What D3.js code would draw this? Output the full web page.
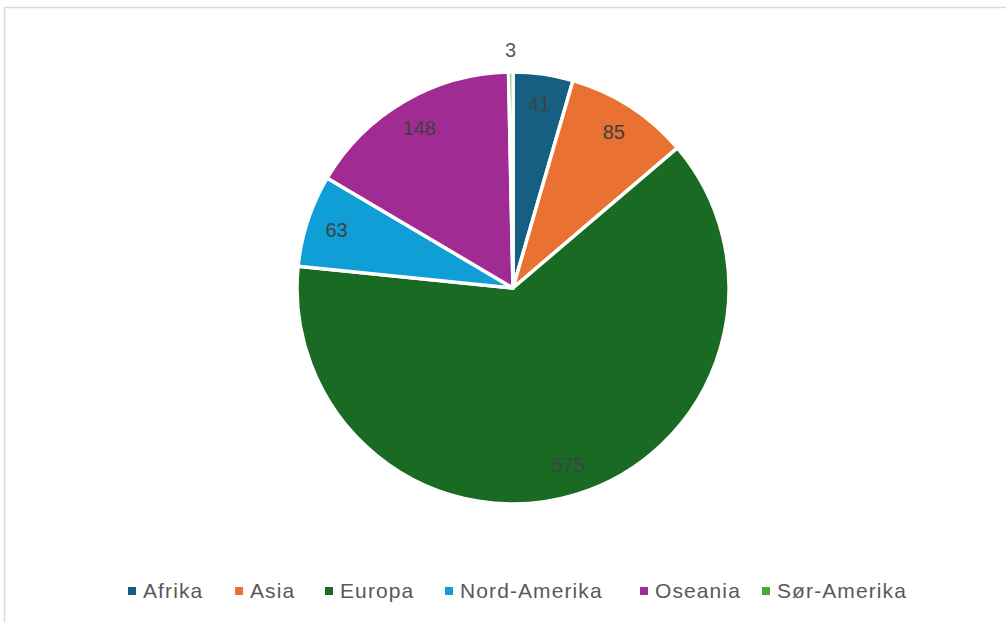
<!DOCTYPE html>
<html>
<head>
<meta charset="utf-8">
<script src="https://cdn.jsdelivr.net/npm/d3@7"></script>
<style>
  body { margin: 0; background: #fff; }
  svg { font-family: "Liberation Sans", Arial, sans-serif; }
</style>
</head>
<body>
<svg id="chart" width="1006" height="622"></svg>
<script>
// chart data
const regions = ["Afrika", "Asia", "Europa", "Nord-Amerika", "Oseania", "Sør-Amerika"];
const counts = [41, 85, 575, 63, 148, 3];
const colors = ["#156082", "#e97132", "#196b24", "#0f9ed5", "#a02b93", "#4ea72e"];

const svg = d3.select("#chart");

// light chart frame
svg.append("rect")
  .attr("x", 4.5).attr("y", 7.5)
  .attr("width", 1010).attr("height", 620)
  .attr("fill", "none")
  .attr("stroke", "#d9d9d9")
  .attr("stroke-width", 1.5);

const cx = 513, cy = 288, radius = 216;

const pie = d3.pie().sort(null).value(d => d.value);
const arcs = pie(regions.map((r, i) => ({ name: r, value: counts[i], color: colors[i] })));

const arc = d3.arc().innerRadius(0).outerRadius(radius);
const labelArc = d3.arc().innerRadius(radius * 0.86).outerRadius(radius * 0.86);
const outerLabelArc = d3.arc().innerRadius(radius + 22).outerRadius(radius + 22);

const g = svg.append("g").attr("transform", `translate(${cx},${cy})`);

g.selectAll("path")
  .data(arcs)
  .enter()
  .append("path")
  .attr("d", arc)
  .attr("fill", d => d.data.color)
  .attr("stroke", "#fff")
  .attr("stroke-width", 3.5)
  .attr("stroke-linejoin", "round");

// data labels (small slices placed outside)
g.selectAll("text.lbl")
  .data(arcs)
  .enter()
  .append("text")
  .attr("class", "lbl")
  .attr("transform", d => {
    const small = d.data.value < 10;
    const p = (small ? outerLabelArc : labelArc).centroid(d);
    return `translate(${p[0]},${p[1]})`;
  })
  .attr("text-anchor", "middle")
  .attr("dy", "0.35em")
  .attr("font-size", 20)
  .attr("fill", d => d.data.value < 10 ? "#595959" : "#404040")
  .text(d => d.data.value);

// legend
const legend = svg.append("g").attr("transform", "translate(0,591)");
const legendX = [128, 235, 325, 445, 640, 762];
const items = legend.selectAll("g")
  .data(regions)
  .enter()
  .append("g")
  .attr("transform", (d, i) => `translate(${legendX[i]},0)`);

items.append("rect")
  .attr("x", 0).attr("y", -4)
  .attr("width", 8).attr("height", 8)
  .attr("fill", (d, i) => colors[i]);

items.append("text")
  .attr("x", 15)
  .attr("dy", "0.35em")
  .attr("font-size", 21)
  .attr("letter-spacing", 1.1)
  .attr("fill", "#595959")
  .text(d => d);
</script>
</body>
</html>
